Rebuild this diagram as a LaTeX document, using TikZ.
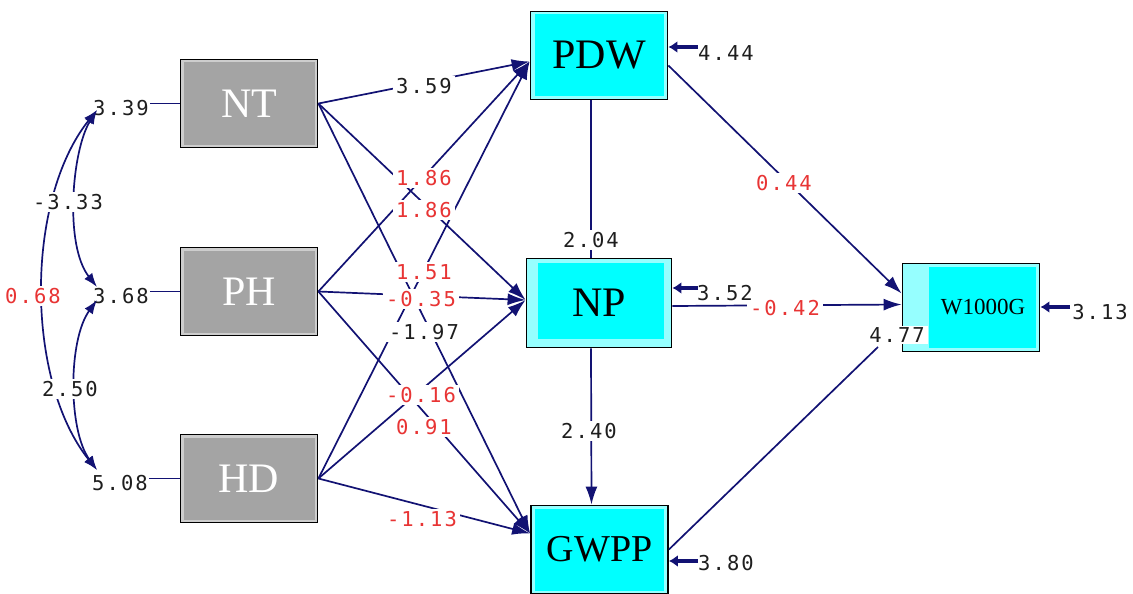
\documentclass[tikz,border=0pt]{standalone}
\usepackage{fontspec}
\setmainfont{Liberation Serif}
\newfontfamily\labfont[LetterSpace=10]{DejaVu Sans Mono}
\usetikzlibrary{arrows.meta}
\definecolor{navy}{RGB}{18,18,115}
\definecolor{lred}{RGB}{232,52,52}
\definecolor{ltxt}{RGB}{30,30,30}
\definecolor{gmain}{RGB}{164,164,164}
\definecolor{glight}{RGB}{205,205,205}
\definecolor{cmain}{RGB}{0,255,255}
\definecolor{clight}{RGB}{150,255,255}
\begin{document}
\begin{tikzpicture}[x=1pt,y=-1pt,
  box/.style n args={6}{draw=black, line width=1.8pt, fill=#2,
    minimum width=137pt, minimum height=88pt, inner sep=0pt,
    path picture={\fill[#1] ([xshift=#3,yshift=-#4]path picture bounding box.north west)
      rectangle ([xshift=-#5,yshift=#6]path picture bounding box.south east);}},
  exo/.style={box={gmain}{glight}{3pt}{3pt}{3pt}{3pt}, text=white,
    font=\fontsize{42}{42}\selectfont},
  endo/.style={text=black, font=\fontsize{42}{42}\selectfont},
  path/.style={draw=navy, line width=1.7pt},
  arr/.style={path, -{Latex[length=18pt,width=12pt]}},
  curv/.style={path, {Latex[length=14pt,width=10pt]}-{Latex[length=14pt,width=10pt]}},
  err/.style={draw=navy, line width=3.2pt, -{Latex[length=9pt,width=12pt]}},
  lab/.style={font=\labfont\fontsize{20.5}{20.5}\selectfont, text=ltxt, fill=white,
    inner xsep=3pt, inner ysep=2pt},
  rlab/.style={lab, text=lred},
  vlab/.style={font=\labfont\fontsize{20.5}{20.5}\selectfont, text=ltxt, inner sep=1pt}
]
\useasboundingbox (0,0) rectangle (1133,594);

% ---- boxes
\node[exo] (nt) at (249,103.5) {NT};
\node[exo] (ph) at (249,291.5) {PH};
\node[exo] (hd) at (249,478.5) {HD};
\node[box={cmain}{clight}{4pt}{3pt}{4pt}{3pt}, endo] (pdw) at (599,55.5) {PDW};
\node[box={cmain}{clight}{11pt}{4pt}{8pt}{9pt}, endo, minimum width=145pt, minimum height=89pt] (np) at (599,303) {NP};
\node[box={cmain}{clight}{4pt}{3pt}{4pt}{3pt}, endo, font=\fontsize{38}{38}\selectfont] (gwpp) at (599.5,549.5) {GWPP};
\node[box={cmain}{clight}{26pt}{3pt}{4pt}{4pt}, text=black, font=\fontsize{23}{23}\selectfont] (w) at (971,307.5) {\hspace*{24pt}W1000G};

% ---- structural paths
\coordinate (pdwin) at ([yshift=-6pt]pdw.west);
\coordinate (npin) at ([yshift=3pt]np.west);
\coordinate (gwin) at ([yshift=16pt]gwpp.west);
\draw[arr] (nt.east) -- (pdwin);
\draw[arr] (nt.east) -- (npin);
\draw[arr] (nt.east) -- (gwin);
\draw[arr] (ph.east) -- (pdwin);
\draw[arr] (ph.east) -- (npin);
\draw[arr] (ph.east) -- (gwin);
\draw[arr] (hd.east) -- (pdwin);
\draw[arr] (hd.east) -- (npin);
\draw[arr] (hd.east) -- (gwin);

\draw[path] ([xshift=-8pt]pdw.south) -- ([xshift=-8pt]np.north);
\draw[arr] ([xshift=-8pt]np.south) -- ([xshift=-8pt]gwpp.north);
\draw[arr] ([yshift=-10pt]pdw.east) -- ([yshift=14pt]w.west);
\draw[arr] ([yshift=-3pt]np.east) -- ([yshift=3pt]w.west);
\coordinate (e477) at (878,347);
\draw[path] (gwpp.east) -- (e477);

% ---- path labels
\node[lab]  (l359) at (424,86)  {3.59};
\node[rlab] (l186a) at (424,178) {1.86};
\node[rlab] (l186b) at (424,210) {1.86};
\node[rlab] (l151) at (424,272) {1.51};
\node[rlab] (l035) at (421,299) {-0.35};
\node[lab]  (l197) at (424,332) {-1.97};
\node[rlab] (l016) at (421,395) {-0.16};
\node[rlab] (l091) at (424,427) {0.91};
\node[rlab] (l113) at (422,519) {-1.13};
\node[lab]  (l204) at (591,240) {2.04};
\node[lab]  (l240) at (589,431) {2.40};
\node[rlab] (l044) at (784,183) {0.44};
\node[rlab] (l042) at (785,308) {-0.42};
\node[lab]  (l477) at (897,335) {4.77};

% ---- error variances
\node[vlab] (l444) at (726,53) {4.44};
\node[vlab] (l352) at (725,293) {3.52};
\node[vlab] (l380) at (726,563) {3.80};
\node[vlab] (l313) at (1100,312) {3.13};
\coordinate (e444) at (698,47);
\coordinate (e352) at (698,288);
\coordinate (e380) at (698,561);
\coordinate (e313) at (1070,307);
\draw[err] (e444) -- (e444 -| pdw.east);
\draw[err] (e352) -- (e352 -| np.east);
\draw[err] (e380) -- (e380 -| gwpp.east);
\draw[err] (e313) -- (e313 -| w.east);

% ---- exogenous variances and covariances
\node[vlab] (l339) at (121,108) {3.39};
\node[vlab] (l368) at (121,296) {3.68};
\node[vlab] (l508) at (120,483) {5.08};
\draw[path] (l339.east |- nt.west) -- (nt.west);
\draw[path] (l368.east |- ph.west) -- (ph.west);
\draw[path] (l508.east |- hd.west) -- (hd.west);

\coordinate (c1) at (97,110);
\coordinate (c2a) at (97,287);
\coordinate (c2b) at (97,300);
\coordinate (c3) at (97,470);
\draw[curv] (c1) .. controls (25,200) and (25,380) .. (c3);
\draw[curv] (c1) .. controls (72,150) and (64,245) .. (c2a);
\draw[curv] (c2b) .. controls (68,340) and (68,430) .. (c3);
\node[lab]  (l333) at (68,202) {-3.33};
\node[rlab] (l068) at (33,296) {0.68};
\node[lab]  (l250) at (70,389) {2.50};
\end{tikzpicture}
\end{document}
